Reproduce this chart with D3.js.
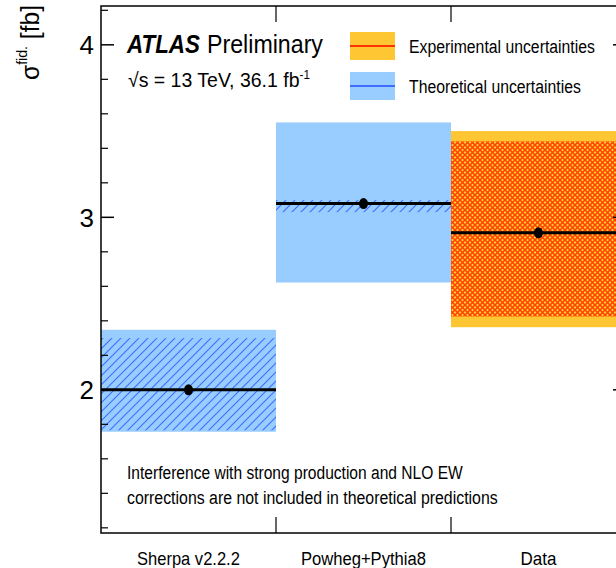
<!DOCTYPE html>
<html>
<head>
<meta charset="utf-8">
<script src="https://cdn.jsdelivr.net/npm/d3@7"></script>
<style>
  html, body { margin: 0; padding: 0; background: #fff; }
  svg { display: block; }
  text { font-family: "Liberation Sans", Arial, sans-serif; fill: #000; }
</style>
</head>
<body>
<svg id="chart" width="616" height="568"></svg>
<script>
// Fiducial cross-section: predictions vs measurement
const categories = ["Sherpa v2.2.2", "Powheg+Pythia8", "Data"];
const central    = [2.00, 3.08, 2.91];
// full uncertainty band (theory total for MC, total for data)
const bandLow    = [1.757, 2.622, 2.363];
const bandHigh   = [2.348, 3.550, 3.500];
// inner band (hatched theory component for MC, cross-hatched for data)
const innerLow   = [1.765, 3.030, 2.425];
const innerHigh  = [2.300, 3.100, 3.440];
const kinds      = ["theory", "theory", "data"];
const yMajorTicks = [2, 3, 4];
const yMinorTicks = [1.2, 1.4, 1.6, 1.8, 2.2, 2.4, 2.6, 2.8, 3.2, 3.4, 3.6, 3.8, 4.2];
const legendLabels = ["Experimental uncertainties", "Theoretical uncertainties"];
const noteLines = ["Interference with strong production and NLO EW",
                   "corrections are not included in theoretical predictions"];

const svg = d3.select("#chart");
const frame = { left: 101, right: 626, top: 6, bottom: 533 };

const x = d3.scaleBand().domain(categories).range([frame.left, frame.right]).padding(0);
const y = d3.scaleLinear().domain([1.17, 4.225]).range([frame.bottom, frame.top]);

const colors = {
  theoryFill: "#99ccff", theoryLine: "#3d6dff",
  dataFill: "#ffc633", dataLine: "#ff3300"
};

// Narrow-set text: place at (px, py) and squeeze horizontally to a given width
function narrowText(parent, px, py, width, size, str, style) {
  const t = parent.append("text").attr("font-size", size);
  if (style) style(t);
  t.text(str);
  const natural = t.node().getComputedTextLength();
  t.attr("transform", `translate(${px},${py}) scale(${width / natural},1)`);
  return t;
}

// patterns
const defs = svg.append("defs");
const hatch = defs.append("pattern").attr("id", "hatch")
  .attr("patternUnits", "userSpaceOnUse").attr("width", 9).attr("height", 9);
hatch.append("rect").attr("width", 9).attr("height", 9).attr("fill", colors.theoryFill);
hatch.append("path").attr("d", "M-2,11 L11,-2 M-2,2 L2,-2 M7,11 L11,7")
  .attr("stroke", colors.theoryLine).attr("stroke-width", 1.1);

const cross = defs.append("pattern").attr("id", "cross")
  .attr("patternUnits", "userSpaceOnUse").attr("width", 5).attr("height", 5);
cross.append("rect").attr("width", 5).attr("height", 5).attr("fill", "#ffcc33");
cross.append("path").attr("d", "M0,0 L5,5 M5,0 L0,5")
  .attr("stroke", "#ff4000").attr("stroke-width", 1.5);

const plot = svg.append("g");

categories.forEach((c, i) => {
  const x0 = x(c), w = x.bandwidth();
  const isData = kinds[i] === "data";
  plot.append("rect")
    .attr("x", x0).attr("width", w)
    .attr("y", y(bandHigh[i])).attr("height", y(bandLow[i]) - y(bandHigh[i]))
    .attr("fill", isData ? colors.dataFill : colors.theoryFill);
  plot.append("rect")
    .attr("x", x0).attr("width", w)
    .attr("y", y(innerHigh[i])).attr("height", y(innerLow[i]) - y(innerHigh[i]))
    .attr("fill", isData ? "url(#cross)" : "url(#hatch)");
  plot.append("line")
    .attr("x1", x0).attr("x2", x0 + w)
    .attr("y1", y(central[i])).attr("y2", y(central[i]))
    .attr("stroke", "#000").attr("stroke-width", 3);
  plot.append("ellipse")
    .attr("cx", x0 + w / 2).attr("cy", y(central[i]))
    .attr("rx", 4.5).attr("ry", 5.5).attr("fill", "#000");
});

// frame and ticks
const axes = svg.append("g").attr("stroke", "#000").attr("fill", "none");
axes.append("rect")
  .attr("x", frame.left).attr("y", frame.top)
  .attr("width", frame.right - frame.left).attr("height", frame.bottom - frame.top)
  .attr("stroke-width", 1.5);

[[frame.left, 1], [frame.right, -1]].forEach(([ax, dir]) => {
  yMajorTicks.forEach(v => axes.append("line")
    .attr("x1", ax).attr("x2", ax + dir * 13)
    .attr("y1", y(v)).attr("y2", y(v)).attr("stroke-width", 1.5));
  yMinorTicks.forEach(v => axes.append("line")
    .attr("x1", ax).attr("x2", ax + dir * 7)
    .attr("y1", y(v)).attr("y2", y(v)).attr("stroke-width", 1.2));
});

categories.slice(1).forEach(c => {
  const bx = x(c);
  axes.append("line").attr("x1", bx).attr("x2", bx)
    .attr("y1", frame.bottom).attr("y2", frame.bottom - 16).attr("stroke-width", 1.2);
  axes.append("line").attr("x1", bx).attr("x2", bx)
    .attr("y1", frame.top).attr("y2", frame.top + 16).attr("stroke-width", 1.2);
});

// y tick labels
svg.append("g").selectAll("text").data(yMajorTicks).join("text")
  .attr("x", 94).attr("y", d => y(d) + 9.5)
  .attr("text-anchor", "end").attr("font-size", 26)
  .text(d => d);

// x category labels
const xLabelWidths = [103, 125, 36];
const xLabels = svg.append("g");
categories.forEach((c, i) => {
  narrowText(xLabels, x(c) + x.bandwidth() / 2 - xLabelWidths[i] / 2, 565,
             xLabelWidths[i], 18, c);
});

// y axis title
const yTitle = svg.append("text")
  .attr("transform", "translate(39,80) rotate(-90)")
  .attr("font-size", 26)
  .attr("textLength", 75).attr("lengthAdjust", "spacingAndGlyphs");
yTitle.append("tspan").text("σ");
yTitle.append("tspan").attr("font-size", 15).attr("dy", -12).text("fid.");
yTitle.append("tspan").attr("dy", 12).text(" [fb]");

// experiment label
narrowText(svg, 127, 53, 73, 26, "ATLAS",
  t => t.attr("font-weight", "bold").attr("font-style", "italic"));
narrowText(svg, 207, 53, 116, 26, "Preliminary");

const energy = svg.append("text").attr("font-size", 20);
energy.append("tspan").text("√s = 13 TeV, 36.1 fb");
energy.append("tspan").attr("font-size", 12).attr("dy", -8).text("-1");
{
  const natural = energy.node().getComputedTextLength();
  energy.attr("transform", `translate(128,87) scale(${182 / natural},1)`);
}

// legend
const legend = svg.append("g");
const legendY = [46, 86];
const legendFill = [colors.dataFill, colors.theoryFill];
const legendLine = [colors.dataLine, colors.theoryLine];
const legendWidths = [186, 172];
legendLabels.forEach((lab, i) => {
  legend.append("rect").attr("x", 350).attr("width", 45)
    .attr("y", legendY[i] - 14).attr("height", 28).attr("fill", legendFill[i]);
  legend.append("line").attr("x1", 350).attr("x2", 395)
    .attr("y1", legendY[i]).attr("y2", legendY[i])
    .attr("stroke", legendLine[i]).attr("stroke-width", 2);
  narrowText(legend, 409, legendY[i] + 7, legendWidths[i], 19, lab);
});

// note
const noteWidths = [336, 371];
const note = svg.append("g");
noteLines.forEach((line, i) => narrowText(note, 127, 479 + i * 25, noteWidths[i], 19, line));
</script>
</body>
</html>
